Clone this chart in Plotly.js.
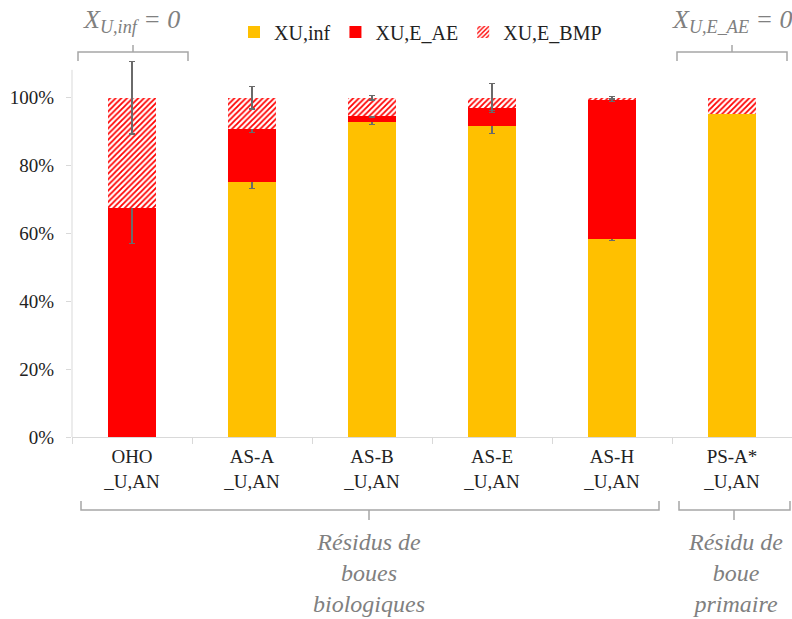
<!DOCTYPE html>
<html>
<head>
<meta charset="utf-8">
<script src="https://cdn.plot.ly/plotly-3.0.1.min.js"></script>
<style>html,body{margin:0;padding:0;background:#fff;}#chart{width:792px;height:619px;}</style>
</head>
<body>
<div id="chart"></div>
<script>
// ---- data ----
const categories = ['OHO<br>_U,AN', 'AS-A<br>_U,AN', 'AS-B<br>_U,AN', 'AS-E<br>_U,AN', 'AS-H<br>_U,AN', 'PS-A*<br>_U,AN'];
const seriesNames = ['XU,inf', 'XU,E_AE', 'XU,E_BMP'];
const xuInf  = [0,     0.752, 0.928, 0.918, 0.584, 0.951];
const xuEAE  = [0.676, 0.156, 0.019, 0.052, 0.408, 0];
const xuEBMP = [0.324, 0.092, 0.053, 0.030, 0.008, 0.049];
const errInf  = [null,  0.020, 0.006, 0.024, 0.006, null];
const errEAE  = [0.105, 0.011, 0.004, 0.008, 0.004, null];
const errEBMP = [0.107, 0.033, 0.007, 0.043, 0.004, null];
const yTickVals = [0, 0.2, 0.4, 0.6, 0.8, 1.0];

// ---- layout helpers (pixel -> paper) ----
const W = 792, H = 619, ML = 72, MR = 0, MT = 57, MB = 182;
const PW = W - ML - MR, PH = H - MT - MB;
const px = x => (x - ML) / PW;
const py = y => (H - MB - y) / PH;

const errStyle = (arr) => ({
  type: 'data', array: arr.map(v => v === null ? NaN : v), visible: true,
  color: '#6a6a6a', thickness: 1.2, width: 3
});

const font = 'Liberation Serif, Times New Roman, serif';

const traces = [
  { type: 'bar', name: seriesNames[0], x: categories, y: xuInf,
    marker: { color: '#FFC000', line: { width: 0 } }, error_y: errStyle(errInf) },
  { type: 'bar', name: seriesNames[1], x: categories, y: xuEAE,
    marker: { color: '#FF0000', line: { width: 0 } }, error_y: errStyle(errEAE) },
  { type: 'bar', name: seriesNames[2], x: categories, y: xuEBMP,
    marker: { color: '#FF0000', line: { width: 0 },
      pattern: { shape: '/', fgcolor: '#FF0000', bgcolor: '#ffffff', fillmode: 'replace', size: 4, solidity: 0.45 } },
    error_y: errStyle(errEBMP) }
];

function topBrace(x0, x1, yLine, yEnd, xc, yTip) {
  return `M${px(x0)},${py(yEnd)} L${px(x0)},${py(yLine)} L${px(x1)},${py(yLine)} L${px(x1)},${py(yEnd)} M${px(xc)},${py(yLine)} L${px(xc)},${py(yTip)}`;
}
const braceLine = { color: '#a6a6a6', width: 1.5 };

const shapes = [
  { type: 'line', xref: 'paper', yref: 'y', x0: 0, x1: 0, y0: 0, y1: 1.082, line: { color: '#d9d9d9', width: 1 } },
  { type: 'path', xref: 'paper', yref: 'paper', path: topBrace(78, 188, 52, 61, 133, 45), line: braceLine },
  { type: 'path', xref: 'paper', yref: 'paper', path: topBrace(677, 787, 52, 61, 732, 45), line: braceLine },
  { type: 'path', xref: 'paper', yref: 'paper', path: topBrace(81, 659, 510, 501, 369, 520), line: braceLine },
  { type: 'path', xref: 'paper', yref: 'paper', path: topBrace(679, 790, 510, 501, 734, 520), line: braceLine }
];

const annTopFont = { family: font, size: 26, color: '#808080' };
const annFont = { family: font, size: 24, color: '#808080' };
const annotations = [
  { xref: 'paper', yref: 'paper', x: px(131), y: py(21), text: '<i>X<sub>U,inf</sub> = 0</i>', showarrow: false, font: annTopFont, xanchor: 'center', yanchor: 'middle' },
  { xref: 'paper', yref: 'paper', x: px(732), y: py(21), text: '<i>X<sub>U,E_AE</sub> = 0</i>', showarrow: false, font: annTopFont, xanchor: 'center', yanchor: 'middle' },
  { xref: 'paper', yref: 'paper', x: px(369), y: py(527), text: '<i>Résidus de<br>boues<br>biologiques</i>', showarrow: false, font: annFont, xanchor: 'center', yanchor: 'top' },
  { xref: 'paper', yref: 'paper', x: px(735), y: py(527), text: '<i>Résidu de<br>boue<br>primaire</i>', showarrow: false, font: annFont, xanchor: 'center', yanchor: 'top' }
];

const layout = {
  width: W, height: H,
  margin: { l: ML, r: MR, t: MT, b: MB, pad: 0 },
  paper_bgcolor: '#ffffff', plot_bgcolor: '#ffffff',
  barmode: 'stack', bargap: 0.6,
  font: { family: font, size: 18, color: '#222222' },
  showlegend: true,
  legend: { orientation: 'h', x: px(234), xanchor: 'left', y: py(32), yanchor: 'middle',
    font: { family: font, size: 20, color: '#222222' }, itemwidth: 30, bgcolor: 'rgba(0,0,0,0)', traceorder: 'normal' },
  xaxis: { type: 'category', showline: true, linecolor: '#d9d9d9', linewidth: 1,
    ticks: 'outside', tickson: 'boundaries', ticklen: 6, tickcolor: '#d9d9d9', ticklabelstandoff: 2,
    showgrid: false, zeroline: false, tickfont: { family: font, size: 19, color: '#222222' }, fixedrange: true },
  yaxis: { range: [0, 1.12], tickvals: yTickVals, tickformat: '.0%', showgrid: false, zeroline: false, showline: false,
    ticks: 'outside', ticklen: 5, tickcolor: '#d9d9d9', ticklabelstandoff: 8,
    tickfont: { family: font, size: 19, color: '#222222' }, fixedrange: true },
  shapes: shapes,
  annotations: annotations
};

Plotly.newPlot('chart', traces, layout, { displayModeBar: false, staticPlot: true });
</script>
</body>
</html>
